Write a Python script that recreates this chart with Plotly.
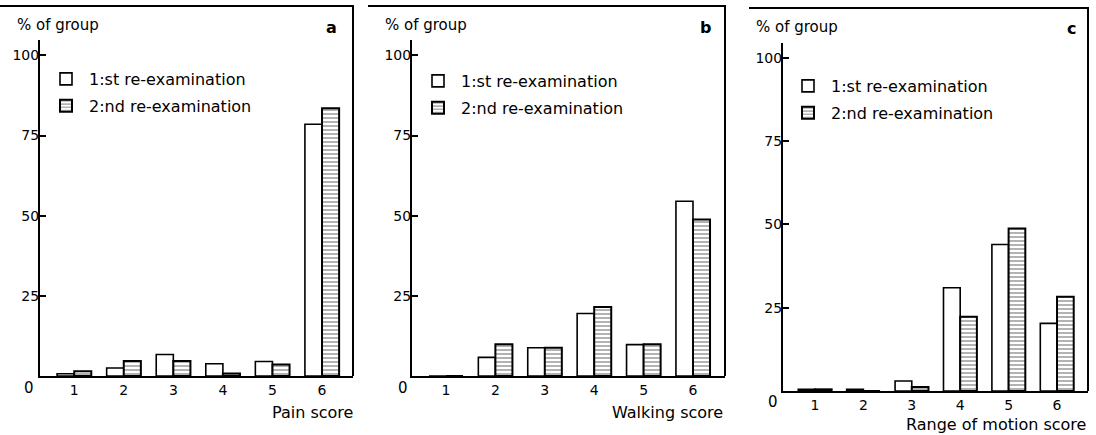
import plotly.graph_objects as go

# ---------------- data ----------------
scores = [1, 2, 3, 4, 5, 6]
tick_vals_y = [25, 50, 75, 100]

pain_1st = [0.7, 2.5, 6.7, 3.8, 4.5, 78.5]
pain_2nd = [1.5, 4.7, 4.7, 0.8, 3.6, 83.5]

walk_1st = [0, 5.8, 8.8, 19.5, 9.8, 54.5]
walk_2nd = [0, 9.9, 8.8, 21.5, 9.9, 48.8]

rom_1st = [0.5, 0.5, 3.0, 31.0, 44.0, 20.3]
rom_2nd = [0.5, 0.0, 1.2, 22.3, 48.8, 28.3]

series_names = ["1:st re-examination", "2:nd re-examination"]
panel_letters = ["a", "b", "c"]
x_titles = ["Pain score", "Walking score", "Range of motion score"]
y_title = "% of group"

# ---------------- layout helpers (pixel -> paper) ----------------
W, H = 1096, 435
def px(x):
    return x / W
def py(y):
    return 1 - y / H

FONT = "DejaVu Sans"
panels = [
    dict(xl=40, xr=353, yb=376, yt=40, ytop=104.8, xrange=[0.31, 6.625], frame_top=6, frame_left=0,
         ylab_x=15, ylab_y=25, let_x=331, let_y=27, zero_x=29, zero_y=388, xt_x=355, xt_y=412,
         leg_x=43, leg_y=62, data=(pain_1st, pain_2nd)),
    dict(xl=412, xr=725, yb=376, yt=40, ytop=104.8, xrange=[0.312, 6.648], frame_top=6, frame_left=368,
         ylab_x=383, ylab_y=25, let_x=705, let_y=27, zero_x=403, zero_y=388, xt_x=725, xt_y=412,
         leg_x=415, leg_y=64, data=(walk_1st, walk_2nd)),
    dict(xl=783, xr=1088, yb=391, yt=43, ytop=104.5, xrange=[0.34, 6.64], frame_top=8, frame_left=749,
         ylab_x=754, ylab_y=27, let_x=1071, let_y=29, zero_x=773, zero_y=402, xt_x=1088, xt_y=424,
         leg_x=785, leg_y=69, data=(rom_1st, rom_2nd)),
]

fig = go.Figure()
shapes = []
annotations = []
legends = {}

for i, p in enumerate(panels):
    sfx = "" if i == 0 else str(i + 1)
    leg_name = "legend" + sfx
    first, second = p["data"]
    fig.add_trace(go.Bar(
        x=scores, y=first, name=series_names[0],
        xaxis="x" + sfx, yaxis="y" + sfx, legend=leg_name, legendgroup=f"g{i}a",
        marker=dict(color="white", line=dict(color="black", width=1.6)),
        offsetgroup="1",
    ))
    fig.add_trace(go.Bar(
        x=scores, y=second, name=series_names[1],
        xaxis="x" + sfx, yaxis="y" + sfx, legend=leg_name, legendgroup=f"g{i}b",
        marker=dict(color="white", line=dict(color="black", width=2),
                    pattern=dict(shape="-", fgcolor="black", bgcolor="white",
                                 size=4, solidity=0.3, fillmode="overlay")),
        offsetgroup="2",
    ))

    fig.update_layout(**{
        "xaxis" + sfx: dict(
            domain=[px(p["xl"]), px(p["xr"])], range=p["xrange"],
            anchor="y" + sfx, tickvals=scores, ticks="", showgrid=False, zeroline=False,
            showline=True, linecolor="black", linewidth=2,
            tickfont=dict(family=FONT, size=14, color="black"), fixedrange=True,
        ),
        "yaxis" + sfx: dict(
            domain=[py(p["yb"]), py(p["yt"])], range=[0, p["ytop"]],
            anchor="x" + sfx, tickvals=tick_vals_y, ticks="inside", ticklen=6,
            tickwidth=1.5, tickcolor="black", showgrid=False, zeroline=False,
            showline=True, linecolor="black", linewidth=2, ticklabelstandoff=-4,
            tickfont=dict(family=FONT, size=14, color="black"), fixedrange=True,
        ),
    })
    legends[leg_name] = dict(
        x=px(p["leg_x"]), y=py(p["leg_y"]), xanchor="left", yanchor="top",
        bgcolor="rgba(0,0,0,0)", font=dict(family=FONT, size=16, color="black"),
        traceorder="grouped", itemwidth=36, tracegroupgap=3,
    )

    shapes.append(dict(type="line", xref="paper", yref="paper",
                       x0=px(p["frame_left"]), x1=px(p["xr"] + 1), y0=py(p["frame_top"]), y1=py(p["frame_top"]),
                       line=dict(color="black", width=2)))
    shapes.append(dict(type="line", xref="paper", yref="paper",
                       x0=px(p["xr"]), x1=px(p["xr"]), y0=py(p["frame_top"]), y1=py(p["yb"]),
                       line=dict(color="black", width=2)))

    annotations += [
        dict(text=y_title, x=px(p["ylab_x"]), y=py(p["ylab_y"]), xref="paper", yref="paper",
             xanchor="left", yanchor="middle", showarrow=False,
             font=dict(family=FONT, size=15, color="black")),
        dict(text="<b>" + panel_letters[i] + "</b>", x=px(p["let_x"]), y=py(p["let_y"]),
             xref="paper", yref="paper", xanchor="center", yanchor="middle", showarrow=False,
             font=dict(family=FONT, size=16, color="black")),
        dict(text="0", x=px(p["zero_x"]), y=py(p["zero_y"]), xref="paper", yref="paper",
             xanchor="center", yanchor="middle", showarrow=False,
             font=dict(family=FONT, size=15, color="black")),
        dict(text=x_titles[i], x=px(p["xt_x"]), y=py(p["xt_y"]), xref="paper", yref="paper",
             xanchor="right", yanchor="middle", showarrow=False,
             font=dict(family=FONT, size=16, color="black")),
    ]

fig.update_layout(
    width=W, height=H, margin=dict(l=0, r=0, t=0, b=0),
    paper_bgcolor="white", plot_bgcolor="white",
    barmode="group", bargap=0.31, bargroupgap=0,
    shapes=shapes, annotations=annotations,
    font=dict(family=FONT, color="black"),
    **legends,
)

fig.write_html("out.html", config={"displayModeBar": False},
               post_script="document.body.style.margin='0';document.body.style.overflow='hidden';")
